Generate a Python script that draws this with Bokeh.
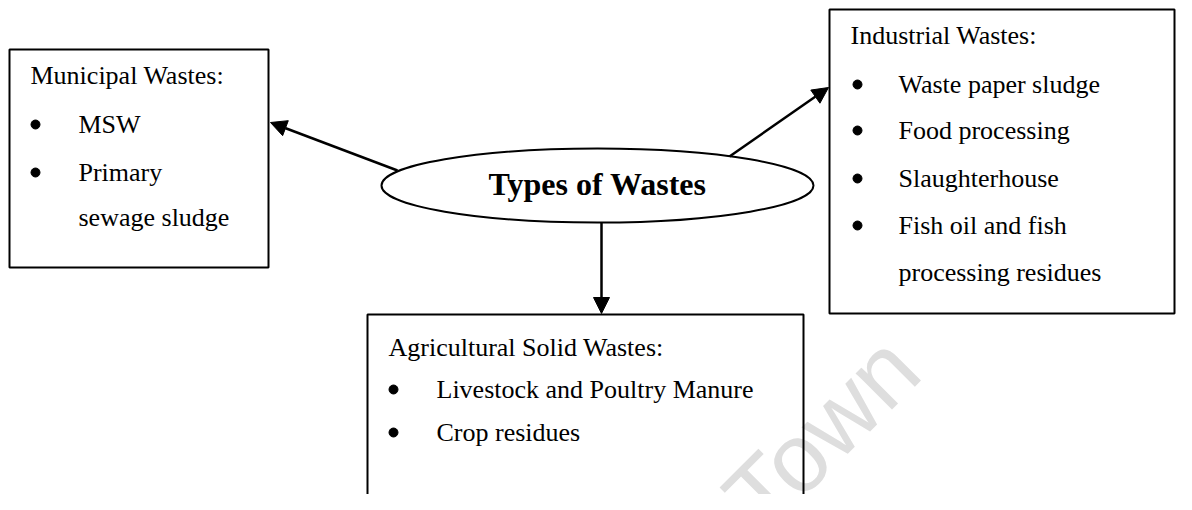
import math
from bokeh.plotting import figure
from bokeh.models import Range1d, Arrow, NormalHead
from bokeh.embed import file_html
from bokeh.resources import INLINE
from bokeh.core.properties import value

# ---------------- content ----------------
center_label = ["Types of Wastes"]
box_titles = ["Municipal Wastes:", "Industrial Wastes:", "Agricultural Solid Wastes:"]
municipal_lines = ["MSW", "Primary", "sewage sludge"]
municipal_bullets = [True, True, False]
industrial_lines = ["Waste paper sludge", "Food processing", "Slaughterhouse",
                    "Fish oil and fish", "processing residues"]
industrial_bullets = [True, True, True, True, False]
agricultural_lines = ["Livestock and Poultry Manure", "Crop residues"]
agricultural_bullets = [True, True]
watermark = ["Town"]

# ---------------- layout (image pixel coordinates) ----------------
FONT = value("Liberation Serif")
FS = "26px"
TXT_DY = 8.5      # baseline correction for 26px text
TITLE_DY = 12     # baseline correction for 32px text

boxes = {
    "municipal": dict(left=9, right=268, top=49, bottom=267,
                      title_xy=(30, 83), bullet_x=35, item_x=78,
                      baselines=[132, 180, 225]),
    "industrial": dict(left=829, right=1174, top=9, bottom=313,
                       title_xy=(850, 43), bullet_x=857, item_x=898,
                       baselines=[92, 138, 186, 233, 280]),
    "agricultural": dict(left=367, right=803, top=314, bottom=530,
                         title_xy=(388, 355), bullet_x=393, item_x=436,
                         baselines=[397, 440]),
}
contents = {
    "municipal": (box_titles[0], municipal_lines, municipal_bullets),
    "industrial": (box_titles[1], industrial_lines, industrial_bullets),
    "agricultural": (box_titles[2], agricultural_lines, agricultural_bullets),
}

p = figure(width=1176, height=494, x_range=Range1d(0, 1176), y_range=Range1d(494, 0),
           output_backend="svg", toolbar_location=None, min_border=0,
           x_axis_type=None, y_axis_type=None)
p.xgrid.visible = False
p.ygrid.visible = False
p.outline_line_color = None
p.background_fill_color = "white"
p.border_fill_color = "white"

# watermark
p.text(x=[741], y=[512], text=watermark, angle=math.pi / 4,
       text_font=value("Liberation Sans"), text_font_size="97px",
       text_color="#dedede", text_baseline="alphabetic", text_align="left")

# boxes
for key, b in boxes.items():
    p.quad(left=[b["left"]], right=[b["right"]], top=[b["top"]], bottom=[b["bottom"]],
           fill_color=None, line_color="black", line_width=2)
    title, lines, bullets = contents[key]
    p.text(x=[b["title_xy"][0]], y=[b["title_xy"][1] - TXT_DY], text=[title],
           text_font=FONT, text_font_size=FS, text_color="black",
           text_baseline="alphabetic", text_align="left")
    p.text(x=[b["item_x"]] * len(lines), y=[y - TXT_DY for y in b["baselines"]], text=lines,
           text_font=FONT, text_font_size=FS, text_color="black",
           text_baseline="alphabetic", text_align="left")
    bx = [b["bullet_x"] for bl in bullets if bl]
    by = [y - 8 for y, bl in zip(b["baselines"], bullets) if bl]
    p.scatter(x=bx, y=by, size=9, marker="circle", fill_color="black", line_color="black")

# central ellipse
p.ellipse(x=[597], y=[185], width=432, height=74, fill_color="white",
          line_color="black", line_width=2)
p.text(x=[597], y=[195 - TITLE_DY], text=center_label, text_font=FONT, text_font_size="32px",
       text_font_style="bold", text_color="black", text_baseline="alphabetic",
       text_align="center")

# arrows
arrows = [((397, 170), (270, 122)), ((729, 156), (828, 87)), ((601, 222), (601, 313))]
for (xs, ys), (xe, ye) in arrows:
    p.add_layout(Arrow(end=NormalHead(size=16, fill_color="black", line_color="black", line_width=1),
                       x_start=xs, y_start=ys, x_end=xe, y_end=ye,
                       line_color="black", line_width=2.5))

open("out.html", "w").write(file_html(p, INLINE))
